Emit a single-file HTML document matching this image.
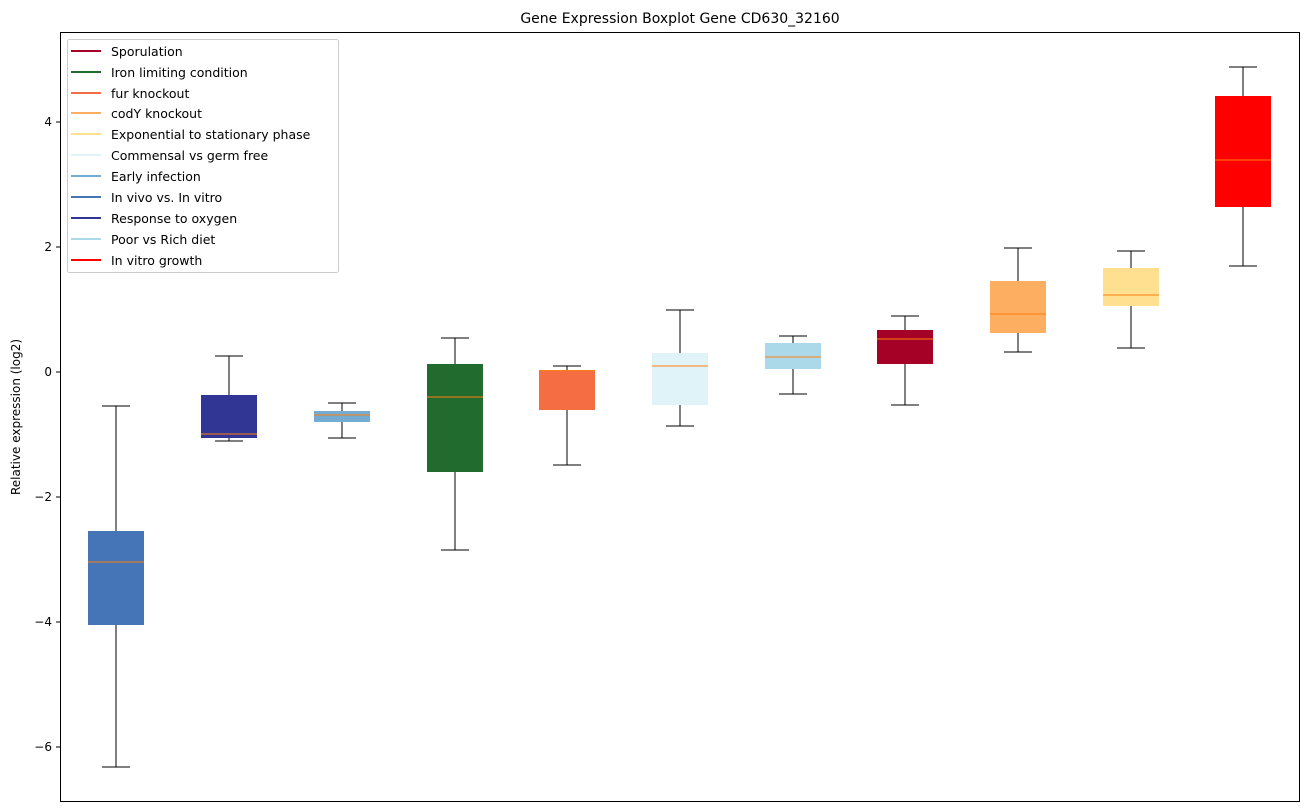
<!DOCTYPE html>
<html><head><meta charset="utf-8"><style>
body{margin:0;background:#fff}
svg{display:block;font-family:"DejaVu Sans","Liberation Sans",sans-serif}
</style></head><body>
<svg width="1309" height="812" xmlns="http://www.w3.org/2000/svg">
<rect width="1309" height="812" fill="#fff"/>
<text x="680" y="23" font-size="14" text-anchor="middle" fill="#000">Gene Expression Boxplot Gene CD630_32160</text>
<g stroke="#000" stroke-width="1">
<line x1="116" y1="406" x2="116" y2="767"/><line x1="102" y1="406" x2="130" y2="406"/><line x1="102" y1="767" x2="130" y2="767"/>
<line x1="229" y1="356" x2="229" y2="441"/><line x1="215" y1="356" x2="243" y2="356"/><line x1="215" y1="441" x2="243" y2="441"/>
<line x1="342" y1="403" x2="342" y2="438"/><line x1="328" y1="403" x2="356" y2="403"/><line x1="328" y1="438" x2="356" y2="438"/>
<line x1="455" y1="338" x2="455" y2="550"/><line x1="441" y1="338" x2="469" y2="338"/><line x1="441" y1="550" x2="469" y2="550"/>
<line x1="567" y1="366" x2="567" y2="465"/><line x1="553" y1="366" x2="581" y2="366"/><line x1="553" y1="465" x2="581" y2="465"/>
<line x1="680" y1="310" x2="680" y2="426"/><line x1="666" y1="310" x2="694" y2="310"/><line x1="666" y1="426" x2="694" y2="426"/>
<line x1="793" y1="336" x2="793" y2="394"/><line x1="779" y1="336" x2="807" y2="336"/><line x1="779" y1="394" x2="807" y2="394"/>
<line x1="905" y1="316" x2="905" y2="405"/><line x1="891" y1="316" x2="919" y2="316"/><line x1="891" y1="405" x2="919" y2="405"/>
<line x1="1018" y1="248" x2="1018" y2="352"/><line x1="1004" y1="248" x2="1032" y2="248"/><line x1="1004" y1="352" x2="1032" y2="352"/>
<line x1="1131" y1="251" x2="1131" y2="348"/><line x1="1117" y1="251" x2="1145" y2="251"/><line x1="1117" y1="348" x2="1145" y2="348"/>
<line x1="1243" y1="67" x2="1243" y2="266"/><line x1="1229" y1="67" x2="1257" y2="67"/><line x1="1229" y1="266" x2="1257" y2="266"/>
</g>
<rect x="88" y="531" width="56" height="94" fill="#4575b7"/>
<rect x="201" y="395" width="56" height="43" fill="#313695"/>
<rect x="314" y="411" width="56" height="11" fill="#74add1"/>
<rect x="427" y="364" width="56" height="108" fill="#226b2e"/>
<rect x="539" y="370" width="56" height="40" fill="#f46d43"/>
<rect x="652" y="353" width="56" height="52" fill="#e0f3f8"/>
<rect x="765" y="343" width="56" height="26" fill="#abd9e9"/>
<rect x="877" y="330" width="56" height="34" fill="#a50026"/>
<rect x="990" y="281" width="56" height="52" fill="#fdae61"/>
<rect x="1103" y="268" width="56" height="38" fill="#fee090"/>
<rect x="1215" y="96" width="56" height="111" fill="#ff0000"/>
<g stroke="#ff7f0e" stroke-width="1">
<line x1="88" y1="562" x2="144" y2="562"/>
<line x1="201" y1="434" x2="257" y2="434"/>
<line x1="314" y1="415" x2="370" y2="415"/>
<line x1="427" y1="397" x2="483" y2="397"/>
<line x1="539" y1="370.5" x2="595" y2="370.5"/>
<line x1="652" y1="366" x2="708" y2="366"/>
<line x1="765" y1="357" x2="821" y2="357"/>
<line x1="877" y1="339" x2="933" y2="339"/>
<line x1="990" y1="314" x2="1046" y2="314"/>
<line x1="1103" y1="295" x2="1159" y2="295"/>
<line x1="1215" y1="160" x2="1271" y2="160"/>
</g>
<rect x="60.5" y="32.5" width="1239" height="769" fill="none" stroke="#000"/>
<g font-size="12" text-anchor="end" fill="#000">
<line x1="56" y1="122" x2="60" y2="122" stroke="#000"/><text x="52" y="126">4</text>
<line x1="56" y1="247" x2="60" y2="247" stroke="#000"/><text x="52" y="251">2</text>
<line x1="56" y1="372" x2="60" y2="372" stroke="#000"/><text x="52" y="376">0</text>
<line x1="56" y1="497" x2="60" y2="497" stroke="#000"/><text x="52" y="501">−2</text>
<line x1="56" y1="622" x2="60" y2="622" stroke="#000"/><text x="52" y="626">−4</text>
<line x1="56" y1="747" x2="60" y2="747" stroke="#000"/><text x="52" y="751">−6</text>
</g>
<text x="20" y="417" font-size="12" text-anchor="middle" transform="rotate(-90 20 417)">Relative expression (log2)</text>
<rect x="67.5" y="39.5" width="271" height="233" rx="2" fill="#fff" stroke="#ccc"/>
<g font-size="12.5" fill="#000">
<line x1="71" y1="51" x2="101" y2="51" stroke="#a50026" stroke-width="2"/><text x="111" y="56">Sporulation</text>
<line x1="71" y1="72" x2="101" y2="72" stroke="#226b2e" stroke-width="2"/><text x="111" y="77">Iron limiting condition</text>
<line x1="71" y1="93" x2="101" y2="93" stroke="#f46d43" stroke-width="2"/><text x="111" y="98">fur knockout</text>
<line x1="71" y1="113" x2="101" y2="113" stroke="#fdae61" stroke-width="2"/><text x="111" y="118">codY knockout</text>
<line x1="71" y1="134" x2="101" y2="134" stroke="#fee090" stroke-width="2"/><text x="111" y="139">Exponential to stationary phase</text>
<line x1="71" y1="155" x2="101" y2="155" stroke="#e0f3f8" stroke-width="2"/><text x="111" y="160">Commensal vs germ free</text>
<line x1="71" y1="176" x2="101" y2="176" stroke="#74add1" stroke-width="2"/><text x="111" y="181">Early infection</text>
<line x1="71" y1="197" x2="101" y2="197" stroke="#4575b7" stroke-width="2"/><text x="111" y="202">In vivo vs. In vitro</text>
<line x1="71" y1="218" x2="101" y2="218" stroke="#313695" stroke-width="2"/><text x="111" y="223">Response to oxygen</text>
<line x1="71" y1="239" x2="101" y2="239" stroke="#abd9e9" stroke-width="2"/><text x="111" y="244">Poor vs Rich diet</text>
<line x1="71" y1="260" x2="101" y2="260" stroke="#ff0000" stroke-width="2"/><text x="111" y="265">In vitro growth</text>
</g>
</svg>
</body></html>
